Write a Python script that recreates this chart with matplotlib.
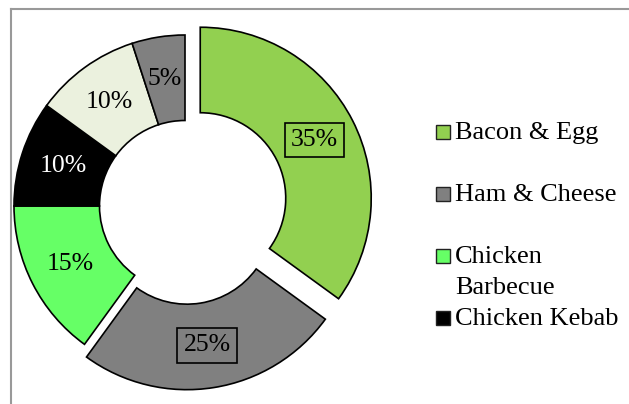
import matplotlib
matplotlib.use('agg')
import matplotlib.pyplot as plt
from matplotlib.patches import Rectangle
from matplotlib.lines import Line2D

# doughnut values (percent), clockwise from 12 o'clock
values = [35, 25, 15, 10, 10, 5]
colors = ['#92D050', '#808080', '#66FF66', '#000000', '#EBF1DE', '#808080']
explode = [0.1, 0.075, 0, 0, 0, 0]
legend_labels = ['Bacon & Egg', 'Ham & Cheese', 'Chicken\nBarbecue', 'Chicken Kebab']

W, H = 629, 404
plt.rcParams['font.family'] = ['Liberation Serif', 'DejaVu Serif']

fig = plt.figure(figsize=(W / 100, H / 100), dpi=100)

def fx(x):
	return x / W

def fy(y):
	return 1 - y / H

# chart area frame (left and top edges only show)
fig.add_artist(Line2D([fx(10.5), fx(10.5)], [fy(9), fy(420)], color='#999999', lw=1.5))
fig.add_artist(Line2D([fx(10.5), fx(640)], [fy(9), fy(9)], color='#999999', lw=1.5))

# pie axes: centre at (185, 206) px, outer radius 171 px
cx, cy, R = 185, 206, 171
lim = 1.2
side = 2 * lim * R
ax = fig.add_axes([fx(cx - side / 2), fy(cy + side / 2), side / W, side / H])
ax.axis('off')

wedges, texts, autotexts = ax.pie(
	values, colors=colors, explode=explode, startangle=90, counterclock=False,
	radius=1, autopct='%d%%', pctdistance=0.75,
	wedgeprops=dict(width=0.5, edgecolor='black', linewidth=1.2),
	textprops=dict(fontsize=18.5, color='black'),
)
ax.set_xlim(-lim, lim)
ax.set_ylim(-lim, lim)
ax.set_aspect('auto')

for i, t in enumerate(autotexts):
	if colors[i] == '#000000':
		t.set_color('white')
	if i < 2:
		t.set_bbox(dict(boxstyle='square,pad=0.25', fc='none', ec='black', lw=1.2))

# legend, only the first four entries fit
baselines = [139, 201, 263, 325]
for i, lab in enumerate(legend_labels):
	b = baselines[i]
	fig.add_artist(Rectangle((fx(436), fy(b)), 14 / W, 14 / H, transform=fig.transFigure,
		fc=colors[i], ec='#222222', lw=1))
	for k, line in enumerate(lab.split('\n')):
		fig.text(fx(455), fy(b + 31 * k), line, fontsize=19, va='baseline', ha='left')

fig.savefig('out.png', dpi=100)
